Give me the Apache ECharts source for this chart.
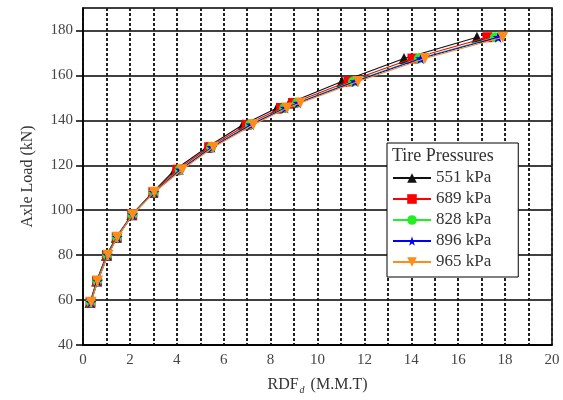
<!DOCTYPE html>
<html>
<head>
<meta charset="utf-8">
<script src="https://cdn.jsdelivr.net/npm/echarts@6/dist/echarts.min.js"></script>
<style>
  html, body { margin: 0; padding: 0; background: #fff; }
  #chart { width: 563px; height: 400px; }
</style>
</head>
<body>
<div id="chart"></div>
<script>
// Axle load levels (kN) shared by every tire-pressure curve
var loads = [59, 68.5, 80, 88, 98, 108, 118, 128, 138, 145.5, 147.7, 157.3, 167.5, 177];

// RDF_d (M.M.T) per tire pressure
var rdf551 = [0.30, 0.58, 1.00, 1.42, 2.08, 2.98, 3.92, 5.29, 6.82, 8.27, 8.80, 11.04, 13.69, 16.80];
var rdf689 = [0.32, 0.60, 1.02, 1.44, 2.10, 3.00, 4.02, 5.38, 6.98, 8.45, 8.96, 11.32, 14.05, 17.25];
var rdf828 = [0.33, 0.61, 1.04, 1.45, 2.11, 3.02, 4.12, 5.47, 7.12, 8.58, 9.12, 11.52, 14.32, 17.57];
var rdf896 = [0.34, 0.63, 1.06, 1.46, 2.12, 3.03, 4.15, 5.50, 7.16, 8.62, 9.17, 11.60, 14.40, 17.70];
var rdf965 = [0.35, 0.62, 1.07, 1.46, 2.12, 3.04, 4.22, 5.56, 7.26, 8.70, 9.27, 11.73, 14.58, 17.90];

var seriesNames = ['551 kPa', '689 kPa', '828 kPa', '896 kPa', '965 kPa'];
var xTickLabels = [0, 2, 4, 6, 8, 10, 12, 14, 16, 18, 20];
var yTickLabels = [40, 60, 80, 100, 120, 140, 160, 180];

var serif = '"Liberation Serif", "DejaVu Serif", serif';
var star = 'path://M50,0 L61,35 L98,35 L68,57 L79,91 L50,70 L21,91 L32,57 L2,35 L39,35 Z';

function pairs(xs) {
  return xs.map(function (x, i) { return [x, loads[i]]; });
}

var styles = [
  { data: rdf551, color: '#111111', symbol: 'triangle', size: 11, rotate: 0 },
  { data: rdf689, color: '#ff0000', symbol: 'rect', size: 10, rotate: 0 },
  { data: rdf828, color: '#22ee22', symbol: 'circle', size: 10, rotate: 0 },
  { data: rdf896, color: '#0000ff', symbol: star, size: 11, rotate: 0 },
  { data: rdf965, color: '#ff8c1a', symbol: 'triangle', size: 11, rotate: 180 }
];

var series = styles.map(function (s, i) {
  return {
    name: seriesNames[i],
    type: 'line',
    data: pairs(s.data),
    symbol: s.symbol,
    symbolSize: s.size,
    symbolRotate: s.rotate,
    showAllSymbol: true,
    itemStyle: { color: s.color },
    lineStyle: { color: s.color, width: 1.1 },
    smooth: false,
    z: 3 + i
  };
});

var chart = echarts.init(document.getElementById('chart'));
chart.setOption({
  animation: false,
  backgroundColor: '#ffffff',
  grid: {
    left: 83, right: 11, top: 8, bottom: 54,
    show: true, borderColor: '#000', borderWidth: 1.5, backgroundColor: 'transparent'
  },
  xAxis: {
    type: 'value',
    min: 0, max: 20, interval: 1,
    name: 'RDF{sub|d} (M.M.T)',
    nameLocation: 'middle',
    nameGap: 30,
    nameTextStyle: {
      fontFamily: serif, fontSize: 16, color: '#333',
      rich: { sub: { fontFamily: serif, fontSize: 10, fontStyle: 'italic', verticalAlign: 'bottom', padding: [10, 2, 0, 1], color: '#333' } }
    },
    axisLine: { show: true, onZero: false, lineStyle: { color: '#000', width: 1.5 } },
    axisTick: { show: false },
    axisLabel: {
      customValues: xTickLabels,
      fontFamily: serif, fontSize: 15, color: '#444', margin: 8
    },
    splitLine: { show: true, lineStyle: { color: '#222', width: 2, type: [3, 2] } }
  },
  yAxis: {
    type: 'value',
    min: 40, max: 190, interval: 10,
    name: 'Axle Load (kN)',
    nameLocation: 'middle',
    nameGap: 47,
    nameTextStyle: { fontFamily: serif, fontSize: 16, color: '#333' },
    axisLine: { show: true, onZero: false, lineStyle: { color: '#000', width: 1.5 } },
    axisTick: { show: true, customValues: yTickLabels, length: 7, lineStyle: { color: '#000', width: 1.5 } },
    axisLabel: {
      customValues: yTickLabels,
      fontFamily: serif, fontSize: 15, color: '#444', margin: 10
    },
    splitLine: { show: true, lineStyle: { color: '#000', width: 1.5 } }
  },
  legend: {
    orient: 'vertical',
    left: 387, top: 143,
    padding: [26, 27, 6, 5],
    backgroundColor: '#fff',
    borderColor: '#000', borderWidth: 1,
    itemWidth: 38, itemHeight: 12, itemGap: 3,
    textStyle: { fontFamily: serif, fontSize: 17, lineHeight: 18, color: '#333' },
    data: seriesNames
  },
  graphic: [{
    type: 'text',
    left: 392, top: 147, z: 100,
    style: { text: 'Tire Pressures', font: '18px ' + serif, fill: '#333' }
  }],
  series: series
});
</script>
</body>
</html>
